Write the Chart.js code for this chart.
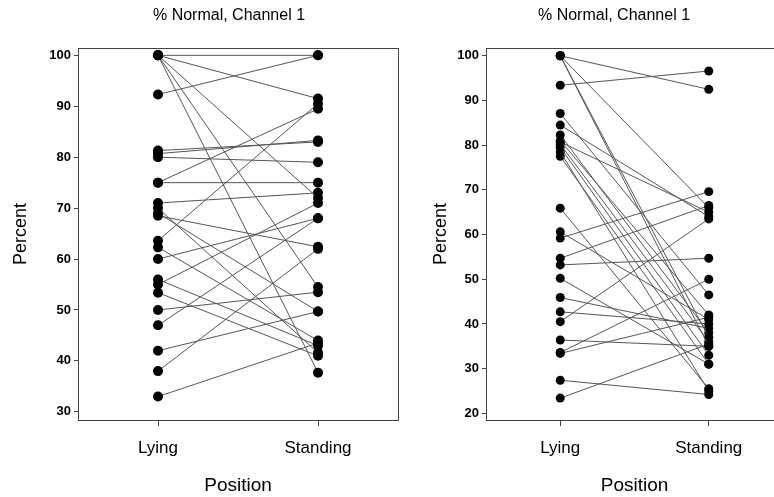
<!DOCTYPE html>
<html>
  <head>
    <meta charset="UTF-8">
    <title>% Normal, Channel 1</title>
    <script src="https://cdn.jsdelivr.net/npm/chart.js"></script>
    <style>
      body { margin: 0; background: #fff; }
      #wrap { position: relative; width: 774px; height: 497px; overflow: hidden; }
      #wrap canvas { position: absolute; top: 0; }
    </style>
  </head>

  <body>
    <div id="wrap">
      <canvas id="leftChart" width="458" height="497" style="left:0"></canvas>
      <canvas id="rightChart" width="428" height="497" style="left:400px"></canvas>
    </div>

    <script>
      // data: one pair (lying, standing) per subject
      const categories = ['Lying', 'Standing'];

      const leftLying    = [100, 92.3, 100, 100, 100, 100, 81.3, 80.7, 80, 75, 75, 71, 70, 69, 68.5, 63.6, 62.3, 60, 56, 55, 53.4, 50, 47, 42, 38, 33];
      const leftStanding = [100, 100, 91.5, 72, 37.7, 54.5, 83, 83.3, 79, 75, 89.5, 73, 41.6, 49.7, 62.4, 90.5, 44, 68, 43, 71, 41, 53.5, 68, 49.7, 62, 43.5];
      const leftTicks    = [30, 40, 50, 60, 70, 80, 90, 100];

      const rightLying    = [100, 93.4, 100, 100, 100, 87.1, 84.5, 82.3, 81, 80.2, 79.5, 78.5, 77.5, 80.7, 65.9, 60.6, 59.2, 54.7, 53.2, 50.2, 45.9, 42.7, 40.5, 36.4, 33.6, 33.4, 27.4, 23.4];
      const rightStanding = [92.5, 96.6, 66, 35, 37, 46.5, 64, 38, 42, 36, 33, 25, 31, 65, 25.5, 41, 69.6, 66.5, 54.7, 31, 39, 40, 63.5, 35, 50, 41.5, 24.2, 35.5];
      const rightTicks    = [20, 30, 40, 50, 60, 70, 80, 90, 100];

      const chartTitle = '% Normal, Channel 1';

      Chart.defaults.font.family = "'Liberation Sans', Arial, sans-serif";
      Chart.defaults.color = '#000';

      // box round the plotting area
      const framePlugin = {
        id: 'frame',
        afterDraw(chart) {
          const a = chart.chartArea;
          const ctx = chart.ctx;
          ctx.save();
          ctx.strokeStyle = '#444';
          ctx.lineWidth = 1;
          ctx.strokeRect(Math.round(a.left) + 0.5, Math.round(a.top) + 0.5,
                         Math.round(a.right - a.left), Math.round(a.bottom - a.top));
          ctx.restore();
        }
      };

      function makeChart(id, lying, standing, ticks, yMin, yMax, axisWidth, spacerWidth, titlePad, radius) {
        const datasets = lying.map((v, i) => ({
          data: [v, standing[i]],
          borderColor: '#555',
          borderWidth: 1,
          pointRadius: radius,
          pointBackgroundColor: '#000',
          pointBorderColor: '#000',
          pointBorderWidth: 0
        }));

        return new Chart(document.getElementById(id), {
          type: 'line',
          data: { labels: categories, datasets: datasets },
          plugins: [framePlugin],
          options: {
            responsive: false,
            animation: false,
            events: [],
            layout: { padding: 0 },
            plugins: {
              legend: { display: false },
              tooltip: { enabled: false },
              title: {
                display: true,
                text: chartTitle,
                font: { size: 16, weight: 'normal' },
                padding: { top: 6, bottom: 23 }
              }
            },
            scales: {
              x: {
                type: 'category',
                offset: true,
                grid: { display: true, drawOnChartArea: false, offset: false, tickLength: 6, color: '#444' },
                border: { display: true, color: '#444' },
                ticks: { font: { size: 17 }, padding: 12 },
                title: { display: true, text: 'Position', font: { size: 19 }, padding: { top: 0, bottom: 0 } },
                afterFit: s => { s.height = 77; }
              },
              y: {
                min: yMin,
                max: yMax,
                grid: { display: true, drawOnChartArea: false, tickLength: 4, color: '#444' },
                border: { display: true, color: '#444' },
                ticks: { font: { size: 13, weight: 'bold' }, padding: 3 },
                afterBuildTicks: s => { s.ticks = ticks.map(v => ({ value: v })); },
                title: { display: true, text: 'Percent', font: { size: 18 }, padding: { top: titlePad, bottom: 0 } },
                afterFit: s => { s.width = axisWidth; }
              },
              // empty axis on the right, only there to keep room so the title sits where it should
              spacer: {
                position: 'right',
                display: true,
                grid: { display: false },
                border: { display: false },
                ticks: { display: false },
                afterFit: s => { s.width = spacerWidth; }
              }
            }
          }
        });
      }

      makeChart('leftChart', leftLying, leftStanding, leftTicks, 28.4, 101.4, 78, 60, 10, 5);
      makeChart('rightChart', rightLying, rightStanding, rightTicks, 18.5, 101.7, 86, 45, 30, 4.5);
    </script>
  </body>
</html>
